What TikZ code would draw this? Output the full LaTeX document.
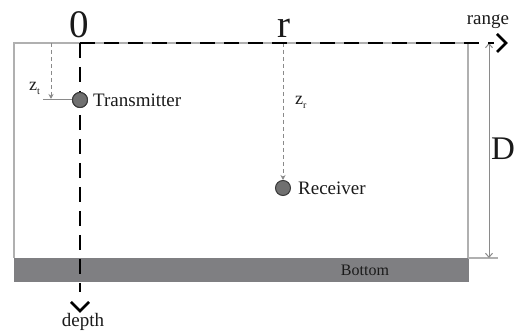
\documentclass[tikz,border=0pt]{standalone}
\usepackage{fontspec}
\setmainfont{Liberation Serif}
\usetikzlibrary{arrows.meta}
\definecolor{framegray}{HTML}{B0B0B0}
\definecolor{bandgray}{HTML}{7F7F82}
\definecolor{ballfill}{HTML}{707070}
\definecolor{ballline}{HTML}{3A3A3A}
\definecolor{txt}{HTML}{1A1A1A}
\definecolor{guide}{HTML}{8A8A8A}
\begin{document}
\begin{tikzpicture}[x=1pt,y=-1pt,
  frameline/.style={draw=framegray, line width=1.3pt},
  axisline/.style={draw=black, line width=2.6pt, dash pattern=on 15pt off 9pt},
  chevron/.style={draw=black, line width=2.6pt},
  ball/.style={circle, fill=ballfill, draw=ballline, line width=1pt, minimum size=15pt, inner sep=0pt},
  lbl/.style={text=txt, font=\fontsize{19}{22}\selectfont, inner sep=0pt},
  big/.style={text=txt, font=\fontsize{39}{44}\selectfont, inner sep=0pt},
  guidedash/.style={draw=guide, line width=0.9pt, dash pattern=on 4pt off 3pt, -{Stealth[length=5pt,width=5pt]}},
  guideline/.style={draw=guide, line width=1pt}
]
\useasboundingbox (0,0) rectangle (515,336);
% coordinates
\coordinate (tl) at (14,43);
\coordinate (tr) at (468,43);
\coordinate (br) at (468,258);
\coordinate (bl) at (14,258);
\coordinate (o) at (80,43);
\coordinate (rangeend) at (494,43);
\coordinate (ra1) at (497,34);
\coordinate (rtip) at (506,43);
\coordinate (ra2) at (497,52);
\coordinate (depthend) at (80,292);
\coordinate (da1) at (71,302);
\coordinate (dtip) at (80,311);
\coordinate (da2) at (89,302);
\coordinate (ztop) at (51,43);
\coordinate (zbot) at (51,99);
\coordinate (zl) at (43,100);
\coordinate (rtop) at (283,43);
\coordinate (Dtop) at (489,43);
\coordinate (Dbot) at (489,258);
\coordinate (Dtick) at (498,258);

% bottom band
\fill[bandgray] (14,258) rectangle (469,282);
\node[text=txt, font=\fontsize{16}{18}\selectfont, inner sep=0pt] (bottomlbl) at (365,270) {Bottom};

% frame
\draw[frameline] (bl) -- (tl) -- (tr) -- (br);
\draw[frameline] (br) -- (Dtick);

% D dimension
\draw[guideline, {Straight Barb[length=4pt,width=7pt]}-{Straight Barb[length=4pt,width=7pt]}] (Dtop) -- (Dbot);
\node[text=txt, font=\fontsize{33}{38}\selectfont, inner sep=0pt, anchor=west] (Dlbl) at (491,149) {D};

% z_t
\draw[guidedash] (ztop) -- (zbot);
\node[ball] (tx) at (80,100) {};
\draw[guideline] (zl) -- (tx.west);
\node[text=txt, font=\fontsize{18}{20}\selectfont, inner sep=0pt, anchor=base west] (ztlbl) at (29,91) {z\raisebox{-4pt}{\fontsize{10}{11}\selectfont t}};

% z_r
\node[ball] (rx) at (283,188) {};
\draw[guidedash] (rtop) -- (rx.north);
\node[text=txt, font=\fontsize{18}{20}\selectfont, inner sep=0pt, anchor=base west] (zrlbl) at (295,105) {z\raisebox{-4pt}{\fontsize{10}{11}\selectfont r}};

% axes
\draw[axisline] (o) -- (rangeend);
\draw[axisline] (o) -- (depthend);
\draw[chevron] (ra1) -- (rtip) -- (ra2);
\draw[chevron] (da1) -- (dtip) -- (da2);

% redraw transmitter above axis
\node[ball] (tx2) at (tx) {};

% labels
\node[lbl, anchor=west] (txlbl) at (93,100) {Transmitter};
\node[lbl, anchor=west] (rxlbl) at (298,188) {Receiver};
\node[big, anchor=base] (zero) at (79,38) {0};
\node[big, anchor=base] (rlbl) at (284,38) {r};
\node[lbl, anchor=base] (rangelbl) at (488,25) {range};
\node[lbl, anchor=base] (depthlbl) at (83,327) {depth};
\end{tikzpicture}
\end{document}
